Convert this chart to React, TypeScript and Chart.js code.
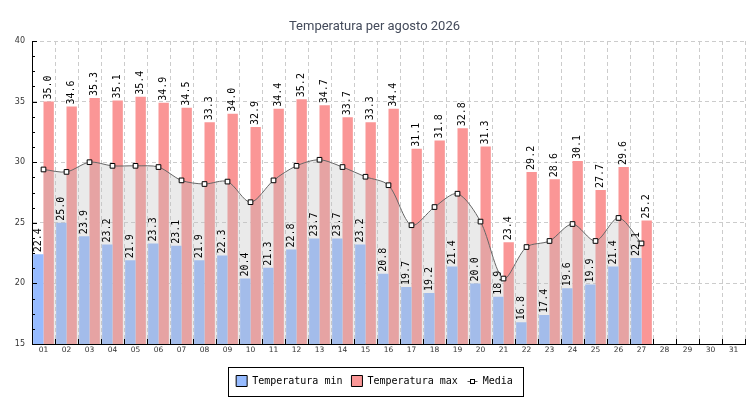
import { useEffect, useRef } from 'react';
import Chart from 'chart.js/auto';

const days = [
    '01', '02', '03', '04', '05', '06', '07', '08', '09', '10',
    '11', '12', '13', '14', '15', '16', '17', '18', '19', '20',
    '21', '22', '23', '24', '25', '26', '27', '28', '29', '30', '31',
];
const tempMin = [
    22.4, 25.0, 23.9, 23.2, 21.9, 23.3, 23.1, 21.9, 22.3, 20.4,
    21.3, 22.8, 23.7, 23.7, 23.2, 20.8, 19.7, 19.2, 21.4, 20.0,
    18.9, 16.8, 17.4, 19.6, 19.9, 21.4, 22.1,
];
const tempMax = [
    35.0, 34.6, 35.3, 35.1, 35.4, 34.9, 34.5, 33.3, 34.0, 32.9,
    34.4, 35.2, 34.7, 33.7, 33.3, 34.4, 31.1, 31.8, 32.8, 31.3,
    23.4, 29.2, 28.6, 30.1, 27.7, 29.6, 25.2,
];
const tempMedia = [
    29.4, 29.2, 30.0, 29.7, 29.7, 29.6, 28.5, 28.2, 28.4, 26.7,
    28.5, 29.7, 30.2, 29.6, 28.8, 28.1, 24.8, 26.3, 27.4, 25.1,
    20.4, 23.0, 23.5, 24.9, 23.5, 25.4, 23.3,
];
const yMin = 15;
const yMax = 40;
const yStep = 5;
const yMinorStep = 1.25;

const MONO = '"DejaVu Sans Mono", monospace';
const BLUE = 'rgb(150,187,255)';
const RED = 'rgb(250,150,150)';

// rotated value labels above the bars
const valueLabels = {
    id: 'valueLabels',
    afterDatasetsDraw(chart: any) {
        const ctx = chart.ctx;
        ctx.save();
        ctx.font = '10px ' + MONO;
        ctx.fillStyle = '#000';
        ctx.textAlign = 'left';
        ctx.textBaseline = 'middle';
        [0, 1].forEach((di) => {
            const meta = chart.getDatasetMeta(di);
            const data = chart.data.datasets[di].data;
            meta.data.forEach((bar: any, i: number) => {
                if (data[i] == null) return;
                ctx.save();
                ctx.translate(bar.x, bar.y - 2);
                ctx.rotate(-Math.PI / 2);
                ctx.fillText(Number(data[i]).toFixed(1), 0, 0);
                ctx.restore();
            });
        });
        ctx.restore();
    },
};

// inward tick marks + boxed legend
const extras = {
    id: 'extras',
    afterDraw(chart: any) {
        const ctx = chart.ctx;
        const area = chart.chartArea;
        const x = chart.scales.x;
        const y = chart.scales.y;
        ctx.save();
        ctx.strokeStyle = '#000';
        ctx.lineWidth = 1;
        ctx.beginPath();
        for (let v = yMin; v <= yMax + 0.001; v += yMinorStep) {
            const py = Math.round(y.getPixelForValue(v)) + 0.5;
            const len = v % yStep === 0 ? 5 : 3;
            ctx.moveTo(area.left, py);
            ctx.lineTo(area.left + len, py);
        }
        for (let i = 0; i <= days.length; i++) {
            const px = Math.round(x.getPixelForValue(i - 0.5)) + 0.5;
            ctx.moveTo(px, area.bottom);
            ctx.lineTo(px, area.bottom - 5);
        }
        ctx.stroke();

        const boxes = chart.legend && chart.legend.legendHitBoxes;
        if (boxes && boxes.length) {
            const first = boxes[0];
            const last = boxes[boxes.length - 1];
            const cy = first.top + first.height / 2;
            const left = Math.round(first.left - 8) + 0.5;
            const right = Math.round(last.left + last.width + 10) + 0.5;
            const top = Math.round(cy - 14.5) + 0.5;
            const bottom = Math.round(cy + 14.5) + 0.5;
            ctx.strokeRect(left, top, right - left, bottom - top);

            const mb = boxes[2];
            const mx = Math.round(mb.left + 5.5) + 0.5;
            const my = Math.round(cy) + 0.5;
            ctx.strokeStyle = '#555';
            ctx.beginPath();
            ctx.moveTo(mx - 5, my);
            ctx.lineTo(mx + 5, my);
            ctx.stroke();
            ctx.fillStyle = '#fff';
            ctx.strokeStyle = '#000';
            ctx.fillRect(mx - 2, my - 2, 4, 4);
            ctx.strokeRect(mx - 2, my - 2, 4, 4);
        }
        ctx.restore();
    },
};

export default function App() {
    const canvasRef = useRef<HTMLCanvasElement | null>(null);

    useEffect(() => {
        if (!canvasRef.current) {
            return;
        }
        document.body.style.margin = '0';

        const chart = new Chart(canvasRef.current, {
            type: 'bar',
            data: {
                labels: days,
                datasets: [
                    {
                        label: 'Temperatura min',
                        data: tempMin,
                        backgroundColor: BLUE,
                        order: 1,
                    },
                    {
                        label: 'Temperatura max',
                        data: tempMax,
                        backgroundColor: RED,
                        order: 1,
                    },
                    {
                        type: 'line',
                        label: 'Media',
                        data: tempMedia,
                        borderColor: '#666',
                        borderWidth: 1,
                        backgroundColor: 'rgba(190,190,190,0.33)',
                        fill: 'start',
                        tension: 0.3,
                        pointStyle: 'rect',
                        pointRadius: 3.3,
                        pointBorderWidth: 1,
                        pointBorderColor: '#000',
                        pointBackgroundColor: '#fff',
                        order: 0,
                    } as any,
                ],
            },
            options: {
                responsive: true,
                maintainAspectRatio: false,
                animation: false,
                layout: { padding: { left: 0, right: 1, top: 0, bottom: 3.5 } },
                datasets: {
                    bar: { categoryPercentage: 0.9, barPercentage: 1.0 },
                },
                plugins: {
                    title: {
                        display: true,
                        text: 'Temperatura per agosto 2026',
                        color: '#434a5a',
                        font: { family: 'Roboto', size: 13, weight: 'normal' },
                        padding: { top: 19, bottom: 6.4 },
                    },
                    legend: {
                        position: 'bottom',
                        labels: {
                            color: '#000',
                            font: { family: MONO, size: 10 },
                            boxWidth: 11,
                            boxHeight: 11,
                            padding: 9,
                            generateLabels: (c: any) =>
                                c.data.datasets.map((ds: any, i: number) => ({
                                    text: ds.label,
                                    fillStyle: i < 2 ? ds.backgroundColor : 'rgba(0,0,0,0)',
                                    strokeStyle: i < 2 ? '#000' : 'rgba(0,0,0,0)',
                                    lineWidth: i < 2 ? 1 : 0,
                                    fontColor: '#000',
                                    hidden: false,
                                    datasetIndex: i,
                                })),
                        },
                    },
                    tooltip: { enabled: false },
                },
                scales: {
                    x: {
                        afterFit: (s: any) => {
                            s.height = 22.5;
                        },
                        grid: { color: '#ccc', drawTicks: false, offset: true },
                        border: { color: '#000', dash: [4, 3] },
                        ticks: {
                            color: '#333',
                            font: { family: 'DejaVu Sans', size: 7.5 },
                            padding: 2,
                            autoSkip: false,
                            maxRotation: 0,
                        },
                    },
                    y: {
                        min: yMin,
                        max: yMax,
                        afterFit: (s: any) => {
                            s.width = 32;
                        },
                        grid: { color: '#ccc', drawTicks: false },
                        border: { color: '#000', dash: [4, 3] },
                        ticks: {
                            stepSize: yStep,
                            color: '#333',
                            font: { family: 'DejaVu Sans', size: 8 },
                            padding: 7,
                        },
                    },
                },
            },
            plugins: [valueLabels, extras],
        });
        return () => chart.destroy();
    }, []);

    return (
        <div style={{ width: '750px', height: '400px', position: 'relative', background: '#fff' }}>
            <canvas ref={canvasRef} />
        </div>
    );
}
